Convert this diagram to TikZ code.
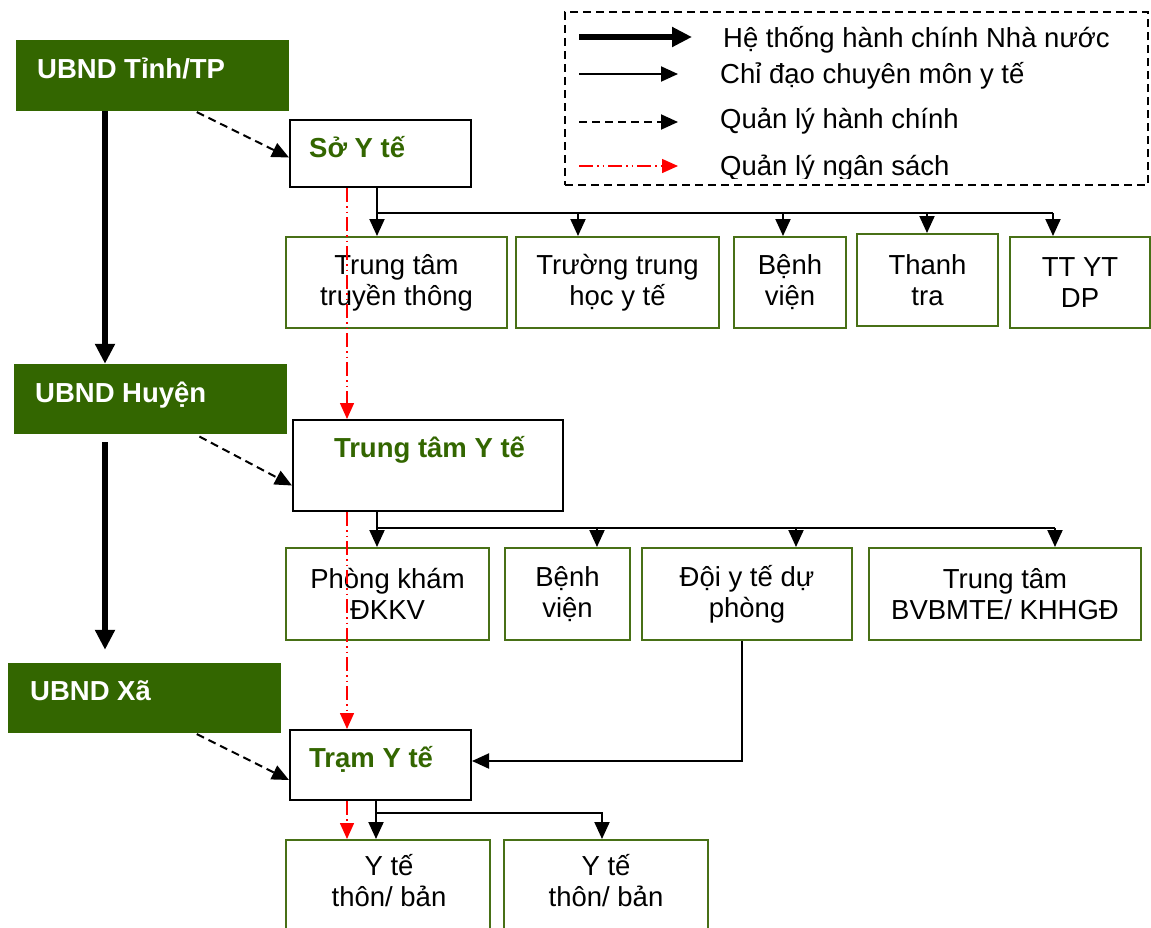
\documentclass[tikz,border=0pt]{standalone}
\usepackage{fontspec}
\setmainfont{Liberation Sans}
\usetikzlibrary{arrows.meta, positioning}
\definecolor{govgreen}{RGB}{51,102,0}
\definecolor{unitgreen}{RGB}{72,112,22}
\tikzset{every node/.style = {font = \fontsize{27.5}{31}\selectfont, inner sep = 0pt},
         govbox/.style = {fill = govgreen},
         govlabel/.style = {anchor = base west, text = white,
                            font = \fontsize{27.5}{31}\selectfont\bfseries},
         officebox/.style = {draw = black, line width = 2pt},
         officelabel/.style = {anchor = base west, text = govgreen,
                               font = \fontsize{27.5}{31}\selectfont\bfseries},
         unitbox/.style = {draw = unitgreen, line width = 2pt, align = center},
         legendtext/.style = {anchor = base west},
         govline/.style = {line width = 6pt, -{Triangle[length = 20pt, width = 19pt]}},
         proline/.style = {line width = 2pt, -{Triangle[length = 17pt, width = 15pt]}},
         adminline/.style = {line width = 2pt, dash pattern = on 8pt off 5pt,
                             -{Triangle[length = 17pt, width = 15pt]}},
         budgetline/.style = {red, line width = 1.5pt,
                              dash pattern = on 14pt off 4pt on 1.5pt off 4pt on 1.5pt off 4pt,
                              -{Triangle[length = 16pt, width = 14pt]}}}

\begin{document}
\begin{tikzpicture}[x = 1pt, y = -1pt]
    \useasboundingbox (0, 0) rectangle (1151, 927);

    % chính quyền
    \node[govbox, minimum width = 273pt, minimum height = 71pt] (tinh)  at (152.5, 75.5) {};
    \node[govbox, minimum width = 273pt, minimum height = 70pt] (huyen) at (150.5, 399)  {};
    \node[govbox, minimum width = 273pt, minimum height = 70pt] (xa)    at (144.5, 698)  {};
    \node[govlabel] (tinhlabel)  at (37, 78)  {UBND Tỉnh/TP};
    \node[govlabel] (huyenlabel) at (35, 402) {UBND Huyện};
    \node[govlabel] (xalabel)    at (30, 700) {UBND Xã};

    % cơ quan y tế
    \node[officebox, minimum width = 181pt, minimum height = 67pt] (so)   at (380.5, 153.5) {};
    \node[officebox, minimum width = 270pt, minimum height = 91pt] (ttyt) at (428, 465.5)   {};
    \node[officebox, minimum width = 181pt, minimum height = 70pt] (tram) at (380.5, 765)   {};
    \node[officelabel] (solabel)                  at (309, 157)   {Sở Y tế};
    \node[officelabel, anchor = base] (ttytlabel) at (429.5, 457) {Trung tâm Y tế};
    \node[officelabel] (tramlabel)                at (309, 767)   {Trạm Y tế};

    % tuyến tỉnh
    \node[unitbox, minimum width = 221pt, minimum height = 91pt] (truyenthong) at (396.5, 282.5) {Trung tâm\\truyền thông};
    \node[unitbox, minimum width = 203pt, minimum height = 91pt] (truonghoc)   at (617.5, 282.5) {Trường trung\\học y tế};
    \node[unitbox, minimum width = 112pt, minimum height = 91pt] (benhvien)    at (790, 282.5)   {Bệnh\\viện};
    \node[unitbox, minimum width = 141pt, minimum height = 92pt] (thanhtra)    at (927.5, 280)   {Thanh\\tra};
    \node[unitbox, minimum width = 140pt, minimum height = 91pt] (ttytdp)      at (1080, 282.5)  {TT YT\\DP};

    % tuyến huyện
    \node[unitbox, minimum width = 203pt, minimum height = 92pt] (phongkham) at (387.5, 594) {Phòng khám\\ĐKKV};
    \node[unitbox, minimum width = 125pt, minimum height = 92pt] (bvhuyen)   at (567.5, 594) {Bệnh\\viện};
    \node[unitbox, minimum width = 210pt, minimum height = 92pt] (doiyte)    at (747, 594)   {Đội y tế dự\\phòng};
    \node[unitbox, minimum width = 272pt, minimum height = 92pt] (bvbmte)    at (1005, 594)  {Trung tâm\\BVBMTE/ KHHGĐ};

    % tuyến xã
    \node[unitbox, minimum width = 204pt, minimum height = 120pt] (thonban1) at (388, 900) {};
    \node[unitbox, minimum width = 204pt, minimum height = 120pt] (thonban2) at (606, 900) {};
    \node[align = center] (thonban1label) at (389, 881) {Y tế\\thôn/ bản};
    \node[align = center] (thonban2label) at (606, 881) {Y tế\\thôn/ bản};

    % hệ thống hành chính
    \draw[govline] (tinh.south -| 105,0) -- (huyen.north -| 105,0);
    \draw[govline, shorten <= 8pt, shorten >= 13pt] (huyen.south -| 105,0) -- (xa.north -| 105,0);

    % quản lý hành chính
    \draw[adminline, shorten <= 2pt] (tinh.south -| 195,0)  -- ([yshift = -4pt]so.west);
    \draw[adminline, shorten <= 5pt] (huyen.south -| 195,0) -- ([yshift = -20pt]ttyt.west);
    \draw[adminline, shorten <= 2pt] (xa.south -| 195,0)    -- ([yshift = -15pt]tram.west);

    % chỉ đạo chuyên môn
    \coordinate (sobus) at (377, 213);
    \draw[proline] (so.south -| sobus) -- (truyenthong.north -| sobus);
    \draw[line width = 2pt] (sobus) -- (1053, 213);
    \foreach \x/\n in {578/truonghoc, 783/benhvien, 927/thanhtra, 1053/ttytdp}
        \draw[proline] (\x, 213) -- (\n.north -| \x,0);

    \coordinate (ttytbus) at (377, 528);
    \draw[proline] (ttyt.south -| ttytbus) -- (phongkham.north -| ttytbus);
    \draw[line width = 2pt] (ttytbus) -- (1055, 528);
    \foreach \x/\n in {597/bvhuyen, 796/doiyte, 1055/bvbmte}
        \draw[proline] (\x, 528) -- (\n.north -| \x,0);

    \draw[proline] (doiyte.south -| 742,0) |- ([yshift = 4pt]tram.east);

    \coordinate (trambus) at (376, 813);
    \draw[proline] (tram.south -| trambus) -- (thonban1.north -| trambus);
    \draw[proline] (trambus) -| (thonban2.north -| 602,0);

    % quản lý ngân sách
    \draw[budgetline] (so.south -| 347,0)   -- (ttyt.north -| 347,0);
    \draw[budgetline] (ttyt.south -| 347,0) -- (tram.north -| 347,0);
    \draw[budgetline] (tram.south -| 347,0) -- (thonban1.north -| 347,0);

    % chú thích
    \node[draw, line width = 2pt, dash pattern = on 8pt off 5pt,
          minimum width = 583pt, minimum height = 173pt] (legend) at (856.5, 98.5) {};
    \coordinate (govfrom)    at (579, 37);  \coordinate (govto)    at (692, 37);
    \coordinate (profrom)    at (579, 74);  \coordinate (proto)    at (678, 74);
    \coordinate (adminfrom)  at (579, 122); \coordinate (adminto)  at (678, 122);
    \coordinate (budgetfrom) at (579, 166); \coordinate (budgetto) at (678, 166);
    \draw[govline]    (govfrom)    -- (govto);
    \draw[proline]    (profrom)    -- (proto);
    \draw[adminline]  (adminfrom)  -- (adminto);
    \draw[budgetline] (budgetfrom) -- (budgetto);
    \node[legendtext] (govtext)   at (723, 47)  {Hệ thống hành chính Nhà nước};
    \node[legendtext] (protext)   at (720, 83)  {Chỉ đạo chuyên môn y tế};
    \node[legendtext] (admintext) at (720, 128) {Quản lý hành chính};
    \begin{scope}
        \clip (legend.north west) rectangle (1148, 178);
        \node[legendtext] (budgettext) at (720, 175) {Quản lý ngân sách};
    \end{scope}
\end{tikzpicture}
\end{document}
